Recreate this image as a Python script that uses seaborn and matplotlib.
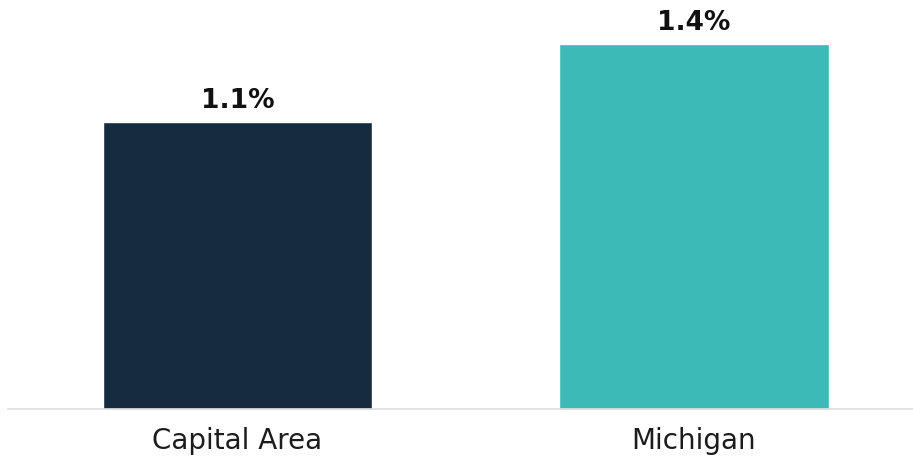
import matplotlib
matplotlib.use("Agg")
import matplotlib.pyplot as plt
import seaborn as sns
import pandas as pd

# data
regions = ["Capital Area", "Michigan"]
rates = [1.1, 1.4]
bar_colors = ["#172b3f", "#3bbab7"]

df = pd.DataFrame({"Region": regions, "Rate": rates})

sns.set_style("white")
plt.rcParams["font.family"] = ["DejaVu Sans"]

fig = plt.figure(figsize=(9.13, 4.6), dpi=100)
ax = fig.add_axes([8 / 913, 50 / 460, 905 / 913, 410 / 460])

sns.barplot(data=df, x="Region", y="Rate", hue="Region", palette=bar_colors,
            legend=False, width=0.59, saturation=1, ax=ax)

# value labels above bars
for i, v in enumerate(rates):
    ax.text(i, v + 0.058, f"{v:.1f}%", ha="center", va="baseline",
            fontsize=19, fontweight="bold", color="#111111")

ax.set_xlim(-0.503, 1.48)
ax.set_ylim(0, 1.572)
ax.set_xlabel("")
ax.set_ylabel("")
ax.set_yticks([])
ax.tick_params(axis="x", length=0, labelsize=20, colors="#1c1c1c", pad=12)
for s in ["top", "right", "left"]:
    ax.spines[s].set_visible(False)
ax.spines["bottom"].set_color("#dddddd")
ax.spines["bottom"].set_linewidth(1.2)

fig.savefig("out.png", dpi=100)
